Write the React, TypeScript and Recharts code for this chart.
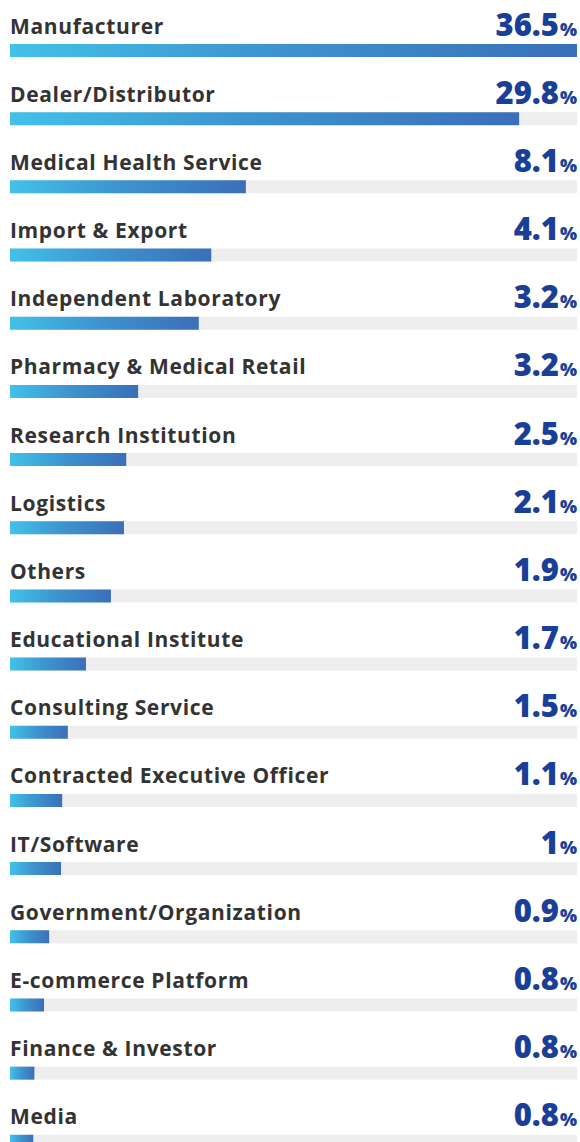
import React from 'react';
import { BarChart, Bar, XAxis, YAxis } from 'recharts';

const categories = [
  'Manufacturer',
  'Dealer/Distributor',
  'Medical Health Service',
  'Import & Export',
  'Independent Laboratory',
  'Pharmacy & Medical Retail',
  'Research Institution',
  'Logistics',
  'Others',
  'Educational Institute',
  'Consulting Service',
  'Contracted Executive Officer',
  'IT/Software',
  'Government/Organization',
  'E-commerce Platform',
  'Finance & Investor',
  'Media',
];

// percentage shown on the right
const shares = [36.5, 29.8, 8.1, 4.1, 3.2, 3.2, 2.5, 2.1, 1.9, 1.7, 1.5, 1.1, 1, 0.9, 0.8, 0.8, 0.8];

// bar length as drawn (share of the full track, not proportional to the percentage)
const barLengths = [100, 89.8, 41.6, 35.5, 33.3, 22.6, 20.5, 20.1, 17.8, 13.4, 10.2, 9.2, 9.0, 6.9, 6.0, 4.3, 4.1];

const data = categories.map((name, i) => ({ name, pct: shares[i], len: barLengths[i] }));

const FONT = '"Open Sans", sans-serif';

const Track = (props: any) => {
  const { x, y, width, height, index } = props;
  return (
    <g>
      <rect x={x} y={y} width={width} height={height} fill="#eeeeee" />
      <text
        x={x}
        y={y - 10.5}
        fill="#333333"
        fontFamily={FONT}
        fontWeight={700}
        fontSize={21}
        letterSpacing={0.65}
      >
        {categories[index]}
      </text>
      <text
        x={x + width}
        y={y - 8.5}
        textAnchor="end"
        fill="#1a3f98"
        fontFamily={FONT}
        fontWeight={800}
      >
        <tspan fontSize={31}>{shares[index]}</tspan>
        <tspan fontSize={18} dx={1}>%</tspan>
      </text>
    </g>
  );
};

export default function App() {
  return (
    <div style={{ position: 'absolute', left: 0, top: 0, width: 580, height: 1142, overflow: 'hidden', background: '#fff' }}>
      <BarChart
        width={580}
        height={1175}
        data={data}
        layout="vertical"
        margin={{ top: 16, right: 3, bottom: 0, left: 10 }}
      >
        <defs>
          <linearGradient id="barGrad" x1="0" y1="0" x2="1" y2="0">
            <stop offset="0%" stopColor="#42c1ea" />
            <stop offset="45%" stopColor="#3d95cf" />
            <stop offset="100%" stopColor="#3a6fb9" />
          </linearGradient>
        </defs>
        <XAxis type="number" domain={[0, 100]} hide />
        <YAxis type="category" dataKey="name" hide width={0} />
        <Bar
          dataKey="len"
          barSize={13}
          fill="url(#barGrad)"
          background={<Track />}
          isAnimationActive={false}
        />
      </BarChart>
    </div>
  );
}
